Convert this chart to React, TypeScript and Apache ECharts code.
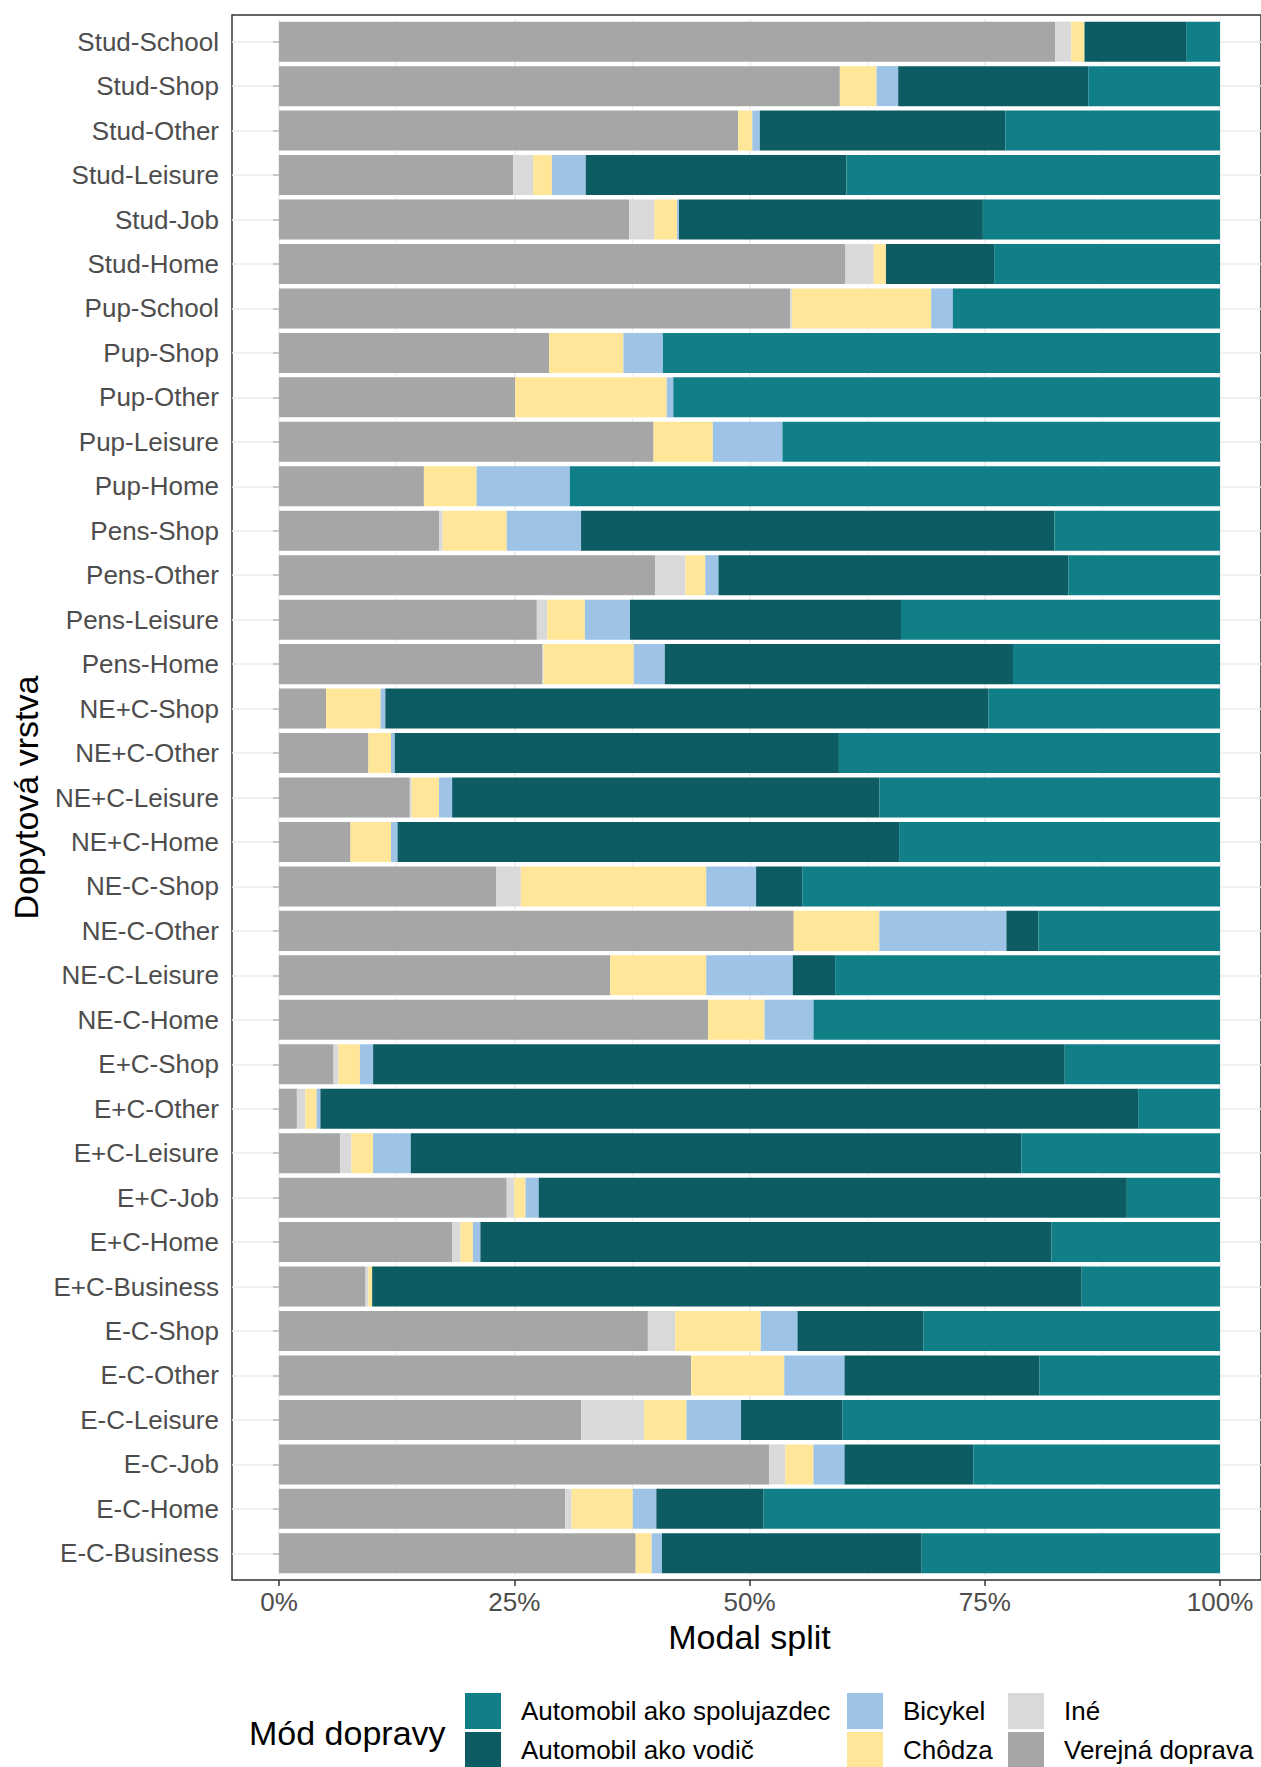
import React, { useEffect, useRef } from "react";
import * as echarts from "echarts";

const categories = [
  "E-C-Business", "E-C-Home", "E-C-Job", "E-C-Leisure", "E-C-Other", "E-C-Shop",
  "E+C-Business", "E+C-Home", "E+C-Job", "E+C-Leisure", "E+C-Other", "E+C-Shop",
  "NE-C-Home", "NE-C-Leisure", "NE-C-Other", "NE-C-Shop",
  "NE+C-Home", "NE+C-Leisure", "NE+C-Other", "NE+C-Shop",
  "Pens-Home", "Pens-Leisure", "Pens-Other", "Pens-Shop",
  "Pup-Home", "Pup-Leisure", "Pup-Other", "Pup-Shop", "Pup-School",
  "Stud-Home", "Stud-Job", "Stud-Leisure", "Stud-Other", "Stud-Shop", "Stud-School",
];

// values in %, same order as categories (bottom to top)
const verejna = [37.9, 30.4, 52.1, 32.1, 43.8, 39.2, 9.2, 18.4, 24.2, 6.5, 1.9, 5.8, 45.6, 35.2, 54.7, 23.1, 7.6, 13.9, 9.5, 5.0, 28.0, 27.4, 40.0, 17.0, 15.4, 39.8, 25.1, 28.7, 54.3, 60.2, 37.2, 24.9, 48.8, 59.6, 82.5];
const ine = [0, 0.7, 1.7, 6.7, 0, 2.9, 0.3, 0.9, 0.8, 1.2, 0.9, 0.5, 0, 0, 0, 2.6, 0, 0.2, 0, 0, 0.1, 1.1, 3.2, 0.4, 0, 0, 0, 0, 0.2, 3.0, 2.7, 2.1, 0, 0, 1.7];
const chodza = [1.7, 6.5, 3.0, 4.5, 9.9, 9.1, 0.4, 1.3, 1.2, 2.3, 1.2, 2.3, 6.0, 10.2, 9.1, 19.7, 4.3, 2.9, 2.4, 5.8, 9.6, 4.0, 2.1, 6.8, 5.6, 6.3, 16.1, 7.9, 14.8, 1.3, 2.4, 2.0, 1.5, 3.9, 1.4];
const bicykel = [1.1, 2.5, 3.3, 5.8, 6.4, 3.9, 0, 0.8, 1.4, 4.0, 0.4, 1.4, 5.2, 9.2, 13.5, 5.3, 0.7, 1.4, 0.4, 0.5, 3.3, 4.8, 1.4, 7.9, 9.9, 7.4, 0.7, 4.2, 2.3, 0, 0.2, 3.6, 0.8, 2.3, 0];
const vodic = [27.6, 11.4, 13.7, 10.8, 20.7, 13.4, 75.4, 60.7, 62.5, 64.9, 86.9, 73.5, 0, 4.5, 3.4, 4.9, 53.3, 45.4, 47.2, 64.1, 37.0, 28.8, 37.2, 50.3, 0, 0, 0, 0, 0, 11.5, 32.3, 27.7, 26.1, 20.2, 10.8];
const spolujazdec = [31.7, 48.5, 26.2, 40.1, 19.2, 31.5, 14.7, 17.9, 9.9, 21.1, 8.7, 16.5, 43.2, 40.9, 19.3, 44.4, 34.1, 36.2, 40.5, 24.6, 22.0, 33.9, 16.1, 17.6, 69.1, 46.5, 58.1, 59.2, 28.4, 24.0, 25.2, 39.7, 22.8, 14.0, 3.6];

const seriesNames = [
  "Verejná doprava", "Iné", "Chôdza", "Bicykel", "Automobil ako vodič", "Automobil ako spolujazdec",
];
const seriesData = [verejna, ine, chodza, bicykel, vodic, spolujazdec];
const seriesColors = ["#A6A6A6", "#D9D9D9", "#FFE699", "#9DC3E6", "#0D5C63", "#107F87"];

const legendColumns = [
  ["Automobil ako spolujazdec", "Automobil ako vodič"],
  ["Bicykel", "Chôdza"],
  ["Iné", "Verejná doprava"],
];

const xTicks = { min: 0, max: 100, interval: 25 };

const FONT = "'Liberation Sans', Arial, sans-serif";

export default function App() {
  const ref = useRef<HTMLDivElement>(null);

  useEffect(() => {
    document.body.style.margin = "0";
    const chart = echarts.init(ref.current!, undefined, { renderer: "svg" });

    const panelTop = 15;
    const panelBottom = 1580;
    const unit = (panelBottom - panelTop) / (categories.length + 0.2);
    const gridTop = panelTop + 0.1 * unit;
    const gridHeight = categories.length * unit;
    const x0 = 279;
    const x100 = 1220;
    const panelLeft = 232;
    const panelRight = 1267;

    const legendLefts = [465, 847, 1008];

    const option: any = {
      animation: false,
      textStyle: { fontFamily: FONT },
      grid: [
        { left: x0, top: gridTop, width: x100 - x0, height: gridHeight, containLabel: false },
        {
          left: panelLeft, top: panelTop, width: panelRight - panelLeft, height: panelBottom - panelTop,
          show: true, borderColor: "#333333", borderWidth: 1.5, backgroundColor: "transparent",
        },
      ],
      xAxis: [
        {
          type: "value",
          gridIndex: 0,
          min: xTicks.min,
          max: xTicks.max,
          interval: xTicks.interval,
          position: "bottom",
          offset: panelBottom - (gridTop + gridHeight),
          axisLine: { show: false },
          axisTick: { show: true, length: 6, lineStyle: { color: "#333333", width: 1.5 } },
          axisLabel: { formatter: "{value}%", fontSize: 26, color: "#4D4D4D", margin: 9, fontFamily: FONT },
          splitLine: { show: true, lineStyle: { color: "#EBEBEB", width: 1.5 } },
          minorTick: { show: false, splitNumber: 2 },
          minorSplitLine: { show: true, lineStyle: { color: "#EBEBEB", width: 0.8 } },
          name: "Modal split",
          nameLocation: "middle",
          nameGap: 37,
          nameTextStyle: { fontSize: 34, color: "#000", fontFamily: FONT },
        },
        { type: "value", gridIndex: 1, show: false, min: 0, max: 1 },
      ],
      yAxis: [
        {
          type: "category",
          gridIndex: 0,
          data: categories,
          position: "left",
          offset: x0 - panelLeft,
          axisLine: { show: false },
          axisTick: { show: true, alignWithLabel: true, length: 6, lineStyle: { color: "#333333", width: 1.5 } },
          axisLabel: { fontSize: 26, color: "#4D4D4D", margin: 13, fontFamily: FONT },
          splitLine: { show: false },
          name: "Dopytová vrstva",
          nameLocation: "middle",
          nameGap: 185,
          nameRotate: 90,
          nameTextStyle: { fontSize: 34, color: "#000", fontFamily: FONT },
        },
        {
          type: "category",
          gridIndex: 0,
          data: categories,
          position: "left",
          offset: x0 - panelLeft,
          axisLine: { show: false },
          axisLabel: { show: false },
          axisTick: { show: true, inside: true, alignWithLabel: true, length: x0 - panelLeft, lineStyle: { color: "#EBEBEB", width: 1.5 } },
          splitLine: { show: false },
        },
        {
          type: "category",
          gridIndex: 0,
          data: categories,
          position: "right",
          offset: panelRight - x100,
          axisLine: { show: false },
          axisLabel: { show: false },
          axisTick: { show: true, inside: true, alignWithLabel: true, length: panelRight - x100, lineStyle: { color: "#EBEBEB", width: 1.5 } },
          splitLine: { show: false },
        },
        { type: "value", gridIndex: 1, show: false, min: 0, max: 1 },
      ],
      legend: legendColumns.map((names, i) => ({
        orient: "vertical",
        left: legendLefts[i],
        top: 1693,
        height: 90,
        width: 300,
        padding: 0,
        itemWidth: 36,
        itemHeight: 36,
        itemGap: 3,
        icon: "rect",
        selectedMode: false,
        textStyle: { fontSize: 26, color: "#000", fontFamily: FONT, padding: [0, 0, 0, 15] },
        data: names,
      })),
      graphic: [
        {
          type: "text",
          x: 249,
          y: 1733,
          style: { text: "Mód dopravy", fontSize: 34, fill: "#000", fontFamily: FONT, verticalAlign: "middle", align: "left" },
        },
      ],
      series: seriesNames.map((name, i) => ({
        name,
        type: "bar",
        stack: "total",
        xAxisIndex: 0,
        yAxisIndex: 0,
        barWidth: "90%",
        itemStyle: { color: seriesColors[i] },
        emphasis: { disabled: true },
        data: seriesData[i],
      })),
    };

    chart.setOption(option);
    return () => chart.dispose();
  }, []);

  return (
    <div
      ref={ref}
      style={{ position: "absolute", left: 0, top: 0, width: 1261, height: 1767 }}
    />
  );
}
